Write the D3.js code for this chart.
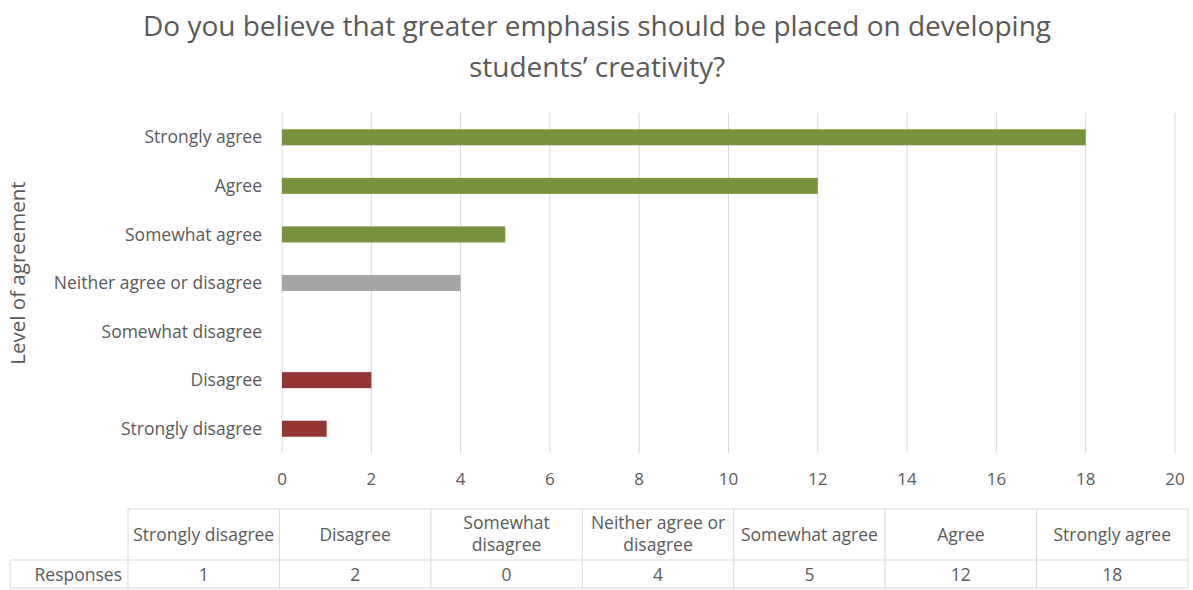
<!DOCTYPE html>
<html>
<head>
<meta charset="utf-8">
<script src="https://cdn.jsdelivr.net/npm/d3@7"></script>
<style>
  body { margin: 0; background: #fff; }
  text { font-family: "Open Sans", "Noto Sans", sans-serif; fill: #595959; }
</style>
</head>
<body>
<div id="chart-area"></div>
<script>
// data
const categories = ["Strongly disagree", "Disagree", "Somewhat disagree", "Neither agree or disagree", "Somewhat agree", "Agree", "Strongly agree"];
const responses = [1, 2, 0, 4, 5, 12, 18];
const barColors = ["#943634", "#943634", "#943634", "#a5a5a5", "#76923c", "#76923c", "#76923c"];
const xTicks = [0, 2, 4, 6, 8, 10, 12, 14, 16, 18, 20];
const tableHeaders = [["Strongly disagree"], ["Disagree"], ["Somewhat", "disagree"], ["Neither agree or", "disagree"], ["Somewhat agree"], ["Agree"], ["Strongly agree"]];

const W = 1193, H = 590;
const margin = {left: 282, right: 18, top: 113, bottom: 137};
const width = W - margin.left - margin.right;
const height = H - margin.top - margin.bottom;

const svg = d3.select("#chart-area")
    .append("svg")
    .attr("width", W)
    .attr("height", H);

// title
svg.append("text")
    .attr("x", 597)
    .attr("text-anchor", "middle")
    .attr("font-size", "28px")
    .selectAll("tspan")
    .data(["Do you believe that greater emphasis should be placed on developing", "students\u2019 creativity?"])
    .enter().append("tspan")
        .attr("x", 597)
        .attr("y", (d, i) => 36 + i * 41)
        .text(d => d);

const g = svg.append("g")
    .attr("transform", "translate(" + margin.left + "," + margin.top + ")");

const x = d3.scaleLinear()
    .domain([0, 20])
    .range([0, width]);

// top to bottom: strongly agree first
const y = d3.scaleBand()
    .domain(categories.slice().reverse())
    .range([0, height])
    .paddingInner(0.67)
    .paddingOuter(0.335);

// gridlines
g.selectAll(".grid")
    .data(xTicks)
    .enter().append("line")
        .attr("class", "grid")
        .attr("x1", d => x(d))
        .attr("x2", d => x(d))
        .attr("y1", 0)
        .attr("y2", height)
        .attr("stroke", "#d9d9d9")
        .attr("stroke-width", 1);

// x tick labels
g.selectAll(".xtick")
    .data(xTicks)
    .enter().append("text")
        .attr("class", "xtick")
        .attr("x", d => x(d))
        .attr("y", height + 32)
        .attr("text-anchor", "middle")
        .attr("font-size", "17px")
        .text(d => d);

// category labels
g.selectAll(".ylabel")
    .data(categories)
    .enter().append("text")
        .attr("class", "ylabel")
        .attr("x", -20)
        .attr("y", d => y(d) + y.bandwidth() / 2)
        .attr("dy", "0.35em")
        .attr("text-anchor", "end")
        .attr("font-size", "17.5px")
        .text(d => d);

// bars
g.selectAll(".bar")
    .data(categories)
    .enter().append("rect")
        .attr("class", "bar")
        .attr("x", x(0))
        .attr("y", d => y(d))
        .attr("width", (d, i) => x(responses[i]) - x(0))
        .attr("height", y.bandwidth())
        .attr("fill", (d, i) => barColors[i]);

// y axis title
svg.append("text")
    .attr("transform", "translate(25," + (margin.top + height / 2 - 10) + ") rotate(-90)")
    .attr("text-anchor", "middle")
    .attr("font-size", "20.5px")
    .text("Level of agreement");

// data table
const colX = d3.scaleBand()
    .domain(categories)
    .range([128, 1188]);
const tTop = 509, tMid = 560, tBot = 588;
const table = svg.append("g").attr("class", "table");
const border = "#d9d9d9";

table.append("line").attr("x1", 128).attr("x2", 1188).attr("y1", tTop).attr("y2", tTop).attr("stroke", border);
table.append("line").attr("x1", 10).attr("x2", 1188).attr("y1", tMid).attr("y2", tMid).attr("stroke", border);
table.append("line").attr("x1", 10).attr("x2", 1188).attr("y1", tBot).attr("y2", tBot).attr("stroke", border);
table.append("line").attr("x1", 10).attr("x2", 10).attr("y1", tMid).attr("y2", tBot).attr("stroke", border);

table.selectAll(".vline")
    .data(categories)
    .enter().append("line")
        .attr("class", "vline")
        .attr("x1", d => colX(d))
        .attr("x2", d => colX(d))
        .attr("y1", tTop)
        .attr("y2", tBot)
        .attr("stroke", border);
table.append("line").attr("x1", 1188).attr("x2", 1188).attr("y1", tTop).attr("y2", tBot).attr("stroke", border);

table.selectAll(".head")
    .data(categories)
    .enter().append("text")
        .attr("class", "head")
        .attr("x", d => colX(d) + colX.bandwidth() / 2)
        .attr("text-anchor", "middle")
        .attr("font-size", "17.5px")
        .each(function(d, i) {
            const lines = tableHeaders[i];
            const y0 = lines.length === 1 ? 541 : 529;
            d3.select(this).selectAll("tspan")
                .data(lines)
                .enter().append("tspan")
                    .attr("x", colX(d) + colX.bandwidth() / 2)
                    .attr("y", (l, j) => y0 + j * 22)
                    .text(l => l);
        });

table.selectAll(".val")
    .data(categories)
    .enter().append("text")
        .attr("class", "val")
        .attr("x", d => colX(d) + colX.bandwidth() / 2)
        .attr("y", 581)
        .attr("text-anchor", "middle")
        .attr("font-size", "17.5px")
        .text((d, i) => responses[i]);

table.append("text")
    .attr("x", 122)
    .attr("y", 581)
    .attr("text-anchor", "end")
    .attr("font-size", "17.5px")
    .text("Responses");
</script>
</body>
</html>
